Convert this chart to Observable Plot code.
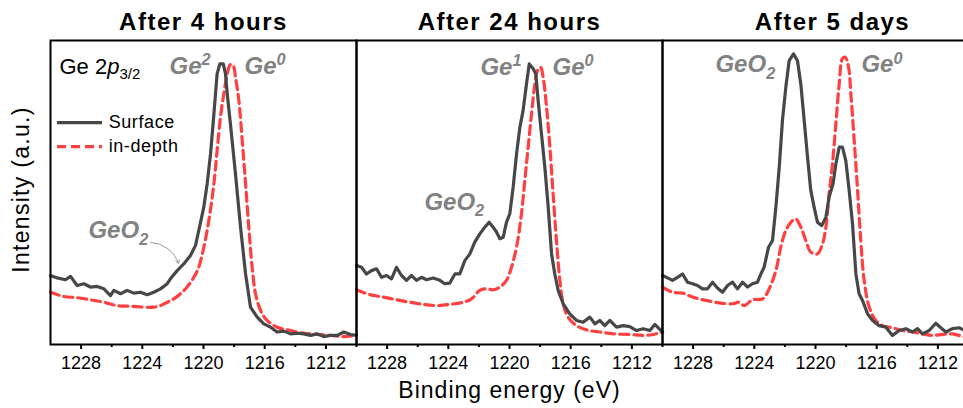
<!DOCTYPE html>
<html><head><meta charset="utf-8">
<script src="https://cdn.jsdelivr.net/npm/d3@7"></script>
<script src="https://cdn.jsdelivr.net/npm/@observablehq/plot@0.6"></script>
<style>
html,body{margin:0;padding:0;overflow:hidden;background:#fff;}
#chart svg{display:block;}
</style></head><body><div id="chart"></div>
<script>
// ---------- data ----------
const panels = ["4h", "24h", "5d"];
const panelTitles = ["After 4 hours", "After 24 hours", "After 5 days"];
const seriesNames = ["Surface", "in-depth"];
const majorTicks = [1228, 1224, 1220, 1216, 1212];
const minorTicks = [1226, 1222, 1218, 1214, 1210];

// After 4 hours
const e4hSurf = [1230.00,1229.56,1229.02,1228.69,1228.26,1227.82,1227.39,1226.95,1226.51,1226.08,1225.86,1225.42,1224.99,1224.55,1224.12,1223.68,1223.25,1222.81,1222.37,1222.16,1221.72,1221.29,1220.85,1220.52,1220.31,1219.98,1219.76,1219.54,1219.32,1219.11,1218.93,1218.71,1218.56,1218.45,1218.24,1217.91,1217.58,1217.25,1216.93,1216.49,1216.06,1215.62,1215.19,1214.75,1214.31,1213.88,1213.44,1213.01,1212.57,1212.14,1211.70,1211.26,1210.83,1210.39,1210.00];
const i4hSurf = [22.7,21.9,21.3,22.4,19.4,20.0,18.9,19.1,18.3,16.1,17.8,16.7,17.8,16.9,17.2,16.4,17.2,18.3,20.0,21.6,24.3,26.5,29.3,32.6,37.5,45.2,52.9,62.7,75.9,89.0,92.3,92.3,89.0,82.5,72.6,56.1,38.6,23.2,12.3,9.0,6.8,5.7,4.1,4.4,3.5,3.7,3.5,3.0,3.5,2.6,3.0,3.0,4.1,3.3,3.0];
const e4hDepth = [1230.00,1229.13,1228.26,1227.39,1226.51,1225.64,1224.77,1223.90,1223.25,1222.81,1222.37,1221.94,1221.50,1221.07,1220.63,1220.31,1219.98,1219.65,1219.32,1219.11,1218.89,1218.67,1218.45,1218.24,1218.06,1217.91,1217.69,1217.47,1217.25,1217.04,1216.82,1216.60,1216.27,1215.84,1215.19,1214.31,1213.44,1212.57,1211.70,1210.83,1210.00];
const i4hDepth = [17.2,15.8,15.4,14.7,13.9,12.8,12.6,12.3,12.3,12.8,13.9,15.0,16.7,18.9,22.1,25.4,32.0,40.8,52.9,63.8,74.8,82.5,89.0,92.1,91.8,87.9,80.3,67.1,52.9,38.6,25.4,16.7,11.2,7.9,5.7,4.6,3.7,3.3,3.0,2.6,3.0];

// After 24 hours
const e24hSurf = [1230.00,1229.67,1229.35,1229.02,1228.69,1228.37,1228.04,1227.71,1227.39,1227.06,1226.73,1226.41,1226.08,1225.75,1225.42,1224.99,1224.55,1224.23,1223.90,1223.57,1223.25,1222.92,1222.59,1222.27,1221.94,1221.61,1221.33,1221.07,1220.85,1220.63,1220.41,1220.20,1219.98,1219.76,1219.54,1219.32,1219.11,1218.89,1218.71,1218.45,1218.28,1218.13,1217.91,1217.69,1217.47,1217.25,1217.04,1216.82,1216.49,1216.06,1215.62,1215.19,1214.75,1214.42,1214.10,1213.77,1213.44,1213.01,1212.57,1212.14,1211.70,1211.26,1210.83,1210.50,1210.00];
const i24hSurf = [26.0,25.4,23.2,24.3,24.9,22.1,22.7,21.6,25.4,22.7,21.1,22.7,21.1,22.1,21.3,21.9,21.1,20.0,20.2,23.2,23.2,27.6,29.8,33.7,36.4,38.6,40.2,38.6,37.0,34.8,35.3,40.2,43.0,51.8,62.7,71.5,77.0,85.7,92.3,90.7,89.0,80.3,69.3,58.3,45.2,29.8,23.2,17.8,13.4,10.1,7.9,7.3,9.0,6.8,7.9,6.2,7.9,5.7,6.2,5.9,4.6,5.2,4.6,6.6,4.1];
const e24hDepth = [1230.00,1229.13,1228.26,1227.39,1226.51,1225.64,1224.77,1223.90,1223.03,1222.48,1221.94,1221.50,1221.07,1220.63,1220.20,1219.87,1219.54,1219.22,1219.00,1218.78,1218.56,1218.34,1218.17,1217.97,1217.80,1217.58,1217.36,1217.15,1216.93,1216.71,1216.49,1216.17,1215.62,1214.97,1214.10,1213.22,1212.14,1211.26,1210.61,1210.00];
const i24hDepth = [18.0,16.4,15.6,14.7,13.9,13.2,12.8,13.2,13.9,15.0,17.8,18.3,18.0,18.9,21.1,25.4,32.0,43.0,53.9,64.9,75.9,85.7,90.1,91.2,87.9,78.1,64.9,49.6,34.2,21.1,13.4,9.0,6.2,4.8,4.1,3.5,3.3,3.0,3.3,4.1];

// After 5 days
const e5dSurf = [1230.00,1229.67,1229.35,1229.02,1228.69,1228.37,1228.04,1227.71,1227.39,1227.06,1226.73,1226.41,1226.08,1225.75,1225.42,1225.10,1224.77,1224.44,1224.12,1223.79,1223.57,1223.36,1223.07,1222.81,1222.59,1222.37,1222.16,1221.94,1221.72,1221.44,1221.18,1220.96,1220.74,1220.52,1220.31,1220.09,1219.87,1219.59,1219.32,1219.11,1218.85,1218.67,1218.45,1218.24,1218.02,1217.80,1217.58,1217.36,1217.15,1216.93,1216.60,1216.27,1215.84,1215.40,1214.97,1214.53,1214.10,1213.66,1213.33,1213.01,1212.57,1212.14,1211.81,1211.48,1211.05,1210.61,1210.33,1210.00];
const i5dSurf = [22.7,21.9,21.1,22.1,23.2,20.5,20.0,19.4,18.3,18.3,20.5,18.6,17.2,19.4,20.5,18.3,20.5,18.9,20.0,20.5,23.2,25.4,32.0,34.2,45.2,58.3,73.7,84.6,93.4,95.6,93.4,85.7,73.7,61.6,50.7,45.2,40.2,39.1,41.9,48.5,52.9,59.4,64.9,64.9,60.5,50.7,39.7,23.2,16.7,14.5,10.1,7.9,6.2,5.7,3.0,4.6,5.2,4.1,5.2,3.5,4.6,7.0,5.5,4.1,5.2,5.5,4.8,4.5];
const e5dDepth = [1230.00,1229.35,1228.69,1228.04,1227.17,1226.30,1225.42,1224.99,1224.66,1224.12,1223.46,1223.03,1222.59,1222.27,1221.94,1221.61,1221.29,1220.96,1220.63,1220.31,1219.87,1219.54,1219.32,1219.11,1218.89,1218.67,1218.45,1218.24,1218.06,1217.84,1217.69,1217.47,1217.25,1217.04,1216.82,1216.49,1216.06,1215.62,1214.97,1214.31,1213.66,1213.01,1212.35,1211.70,1211.05,1210.33,1210.00];
const i5dDepth = [18.9,17.2,16.9,15.6,14.5,13.7,13.4,13.9,12.8,14.7,15.0,18.3,24.3,32.0,37.5,40.2,41.3,38.6,34.2,30.4,29.8,33.1,38.6,49.6,59.4,72.6,85.7,94.0,94.5,91.2,82.5,67.1,50.7,34.2,21.1,12.3,7.9,6.2,5.5,4.6,4.1,3.5,3.0,3.3,3.5,2.6,2.6];

// peak annotations (markup: ^{} superscript, _{} subscript)
const annPanel  = ["4h", "4h", "4h", "24h", "24h", "24h", "5d", "5d"];
const annText   = ["Ge^{2}", "Ge^{0}", "GeO_{2}", "Ge^{1}", "Ge^{0}", "GeO_{2}", "GeO_{2}", "Ge^{0}"];
const annEnergy = [1222.22, 1217.32, 1227.52, 1221.90, 1217.19, 1225.56, 1226.54, 1217.00];
const annInt    = [89.1, 89.1, 34.9, 88.8, 88.8, 44.4, 89.5, 89.5];

// ---------- tables ----------
const sets = [
  ["4h", "Surface", e4hSurf, i4hSurf], ["4h", "in-depth", e4hDepth, i4hDepth],
  ["24h", "Surface", e24hSurf, i24hSurf], ["24h", "in-depth", e24hDepth, i24hDepth],
  ["5d", "Surface", e5dSurf, i5dSurf], ["5d", "in-depth", e5dDepth, i5dDepth]
];
const rows = sets.flatMap(([panel, series, E, I]) => E.map((e, k) => ({panel, series, energy: e, intensity: I[k]})));
const surf = rows.filter(d => d.series === "Surface");
const depth = rows.filter(d => d.series === "in-depth");
const ann = annText.map((t, k) => ({panel: annPanel[k], text: t, energy: annEnergy[k], intensity: annInt[k]}));
const titleRows = panels.map((p, k) => ({panel: p, title: panelTitles[k]}));

const GRAY = "#474747", RED = "#ff4040", LABEL = "#828282";
const FONT = "'Liberation Sans', Arial, Helvetica, sans-serif";
const legendY = (d, k) => 73 - k * 7.9;

const chart = Plot.plot({
  width: 963, height: 408,
  marginTop: 40, marginBottom: 64, marginLeft: 50, marginRight: 0,
  style: {fontFamily: FONT, background: "white", color: "black", overflow: "hidden"},
  fx: {domain: panels, range: [50, 968], padding: 0, axis: null},
  x: {domain: [1230, 1210]},
  y: {domain: [0, 100], axis: null},
  marks: [
    Plot.line(depth, {fx: "panel", x: "energy", y: "intensity", stroke: RED, strokeWidth: 3.2, strokeDasharray: "9,5", curve: "catmull-rom"}),
    Plot.line(surf, {fx: "panel", x: "energy", y: "intensity", stroke: GRAY, strokeWidth: 3.2, strokeLinejoin: "round"}),
    Plot.frame({stroke: "black", strokeWidth: 2}),
    Plot.axisX(majorTicks, {tickSize: 5, tickPadding: 7, tickFormat: d => String(d), fontSize: 18, strokeWidth: 2, label: null}),
    Plot.axisX(minorTicks, {tickSize: 3, fill: "none", strokeWidth: 2, label: null}),
    // panel titles
    Plot.text(titleRows.slice(0, 2), {fx: "panel", text: "title", frameAnchor: "top", lineAnchor: "bottom", dy: -11, fontSize: 24, fontWeight: "bold", fill: "black"}),
    Plot.text(titleRows.slice(2), {fx: "panel", text: "title", frameAnchor: "top", lineAnchor: "bottom", dy: -11, dx: 17, fontSize: 24, fontWeight: "bold", fill: "black"}),
    // axis labels
    Plot.text(["Intensity (a.u.)"], {fx: () => panels[0], text: d => d, frameAnchor: "left", textAnchor: "middle", lineAnchor: "middle", rotate: -90, dx: -29, dy: -3, fontSize: 23, fill: "black"}),
    Plot.text(["Binding energy (eV)"], {fx: () => panels[1], text: d => d, frameAnchor: "bottom", textAnchor: "middle", lineAnchor: "bottom", dy: 53, fontSize: 23, fill: "black"}),
    // core level label
    Plot.text(["Ge 2*p*_{3/2}"], {fx: () => panels[0], text: d => d, frameAnchor: "top-left", textAnchor: "start", lineAnchor: "bottom", dx: 9, dy: 33, fontSize: 22, fill: "black"}),
    // legend
    Plot.ruleY(seriesNames.slice(0, 1), {fx: () => panels[0], y: legendY, x1: 1229.54, x2: 1226.6, stroke: GRAY, strokeWidth: 3.2}),
    Plot.ruleY(seriesNames.slice(1), {fx: () => panels[0], y: (d, k) => legendY(d, k + 1), x1: 1229.54, x2: 1226.6, stroke: RED, strokeWidth: 3.2, strokeDasharray: "9,5"}),
    Plot.text(seriesNames, {fx: () => panels[0], y: legendY, x: 1226.2, text: d => d, textAnchor: "start", fontSize: 18, fill: "black"}),
    // peak labels
    Plot.text(ann, {fx: "panel", x: "energy", y: "intensity", text: "text", textAnchor: "start", lineAnchor: "bottom", fontSize: 24, fontWeight: "bold", fontStyle: "italic", fill: LABEL}),
    Plot.arrow([{panel: "4h"}], {fx: "panel", x1: 1223.46, y1: 33.6, x2: 1221.63, y2: 26.6, bend: 35, stroke: "#9a9a9a", strokeWidth: 1, headLength: 6})
  ]
});
document.getElementById("chart").appendChild(chart);

// rich text: superscripts, subscripts, italics; plus spacing tweaks
const spacing = {"After 4 hours": 1.5, "After 24 hours": 1.5, "After 5 days": 1.5, "Binding energy (eV)": 1, "Intensity (a.u.)": 1.3, "Surface": 0.6, "in-depth": 0.6};
for (const t of chart.querySelectorAll("text")) {
  const s = t.textContent;
  if (spacing[s] != null) t.style.letterSpacing = spacing[s] + "px";
  if (!/[\^_*]/.test(s)) continue;
  const fs = parseFloat(getComputedStyle(t).fontSize) || 20;
  const parts = s.split(/(\^\{[^}]*\}|_\{[^}]*\}|\*[^*]*\*)/).filter(x => x);
  t.textContent = "";
  let shift = 0;
  for (const p of parts) {
    const ts = document.createElementNS("http://www.w3.org/2000/svg", "tspan");
    let txt = p, target = 0, small = false, italic = false;
    if (p.startsWith("^{")) { txt = p.slice(2, -1); target = -0.34 * fs; small = true; }
    else if (p.startsWith("_{")) { txt = p.slice(2, -1); target = 0.27 * fs; small = true; }
    else if (p.startsWith("*")) { txt = p.slice(1, -1); italic = true; }
    ts.textContent = txt;
    if (small) ts.setAttribute("font-size", (0.68 * fs).toFixed(1));
    if (italic) ts.setAttribute("font-style", "italic");
    if (target !== shift) { ts.setAttribute("dy", (target - shift).toFixed(1)); shift = target; }
    t.appendChild(ts);
  }
}
</script></body></html>
